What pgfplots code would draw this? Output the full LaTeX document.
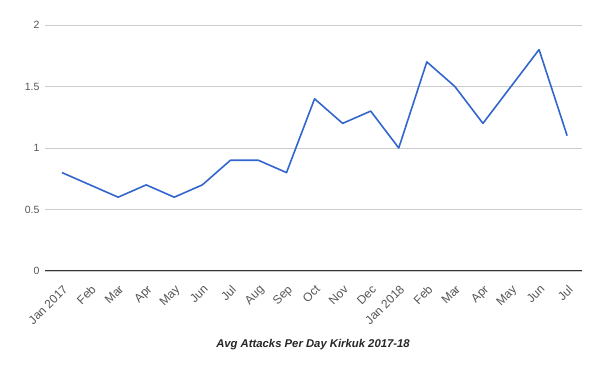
\documentclass[border=0pt]{standalone}
\usepackage{pgfplots}
\pgfplotsset{compat=1.18}
\usepackage{fontspec}
\setmainfont{Liberation Sans}
\definecolor{lineblue}{HTML}{3366CC}
\definecolor{gridgray}{HTML}{CCCCCC}
\definecolor{labgray}{HTML}{555555}
\begin{document}
\begin{tikzpicture}[x=1pt,y=1pt]
\useasboundingbox (0,0) rectangle (600,371);
\begin{axis}[
  at={(45pt,100pt)}, anchor=south west,
  scale only axis, width=537pt, height=246pt,
  xmin=-0.606, xmax=18.53, ymin=0, ymax=2,
  axis line style={draw=none},
  axis x line*=bottom,
  ytick={0,0.5,1,1.5,2},
  yticklabels={0,0.5,1,1.5,2},
  ymajorgrids, grid style={gridgray, line width=0.8pt},
  xtick={0,...,18},
  xticklabels={Jan 2017,Feb,Mar,Apr,May,Jun,Jul,Aug,Sep,Oct,Nov,Dec,Jan 2018,Feb,Mar,Apr,May,Jun,Jul},
  major tick length=0pt,
  tick label style={font=\fontsize{10.5}{12}\selectfont, text=labgray},
  x tick label style={font=\fontsize{12}{13}\selectfont, rotate=45, anchor=north east, inner sep=0.5pt, yshift=-9pt, xshift=-8.5pt},
  y tick label style={xshift=-2pt},
  /pgf/number format/assume math mode=true,
  clip=false,
]
\draw[black!80, line width=1pt] (axis cs:-0.606,0) -- (axis cs:18.53,0);
\addplot[lineblue, line width=1.6pt, mark=none, line join=round] coordinates {
(0,0.8) (1,0.7) (2,0.6) (3,0.7) (4,0.6) (5,0.7) (6,0.9) (7,0.9) (8,0.8)
(9,1.4) (10,1.2) (11,1.3) (12,1.0) (13,1.7) (14,1.5) (15,1.2) (16,1.5) (17,1.8) (18,1.1)
};
\end{axis}
\node[font=\fontsize{11.3}{13}\selectfont\bfseries\itshape, text=black!85] at (313pt,26pt) {Avg Attacks Per Day Kirkuk 2017-18};
\end{tikzpicture}
\end{document}
